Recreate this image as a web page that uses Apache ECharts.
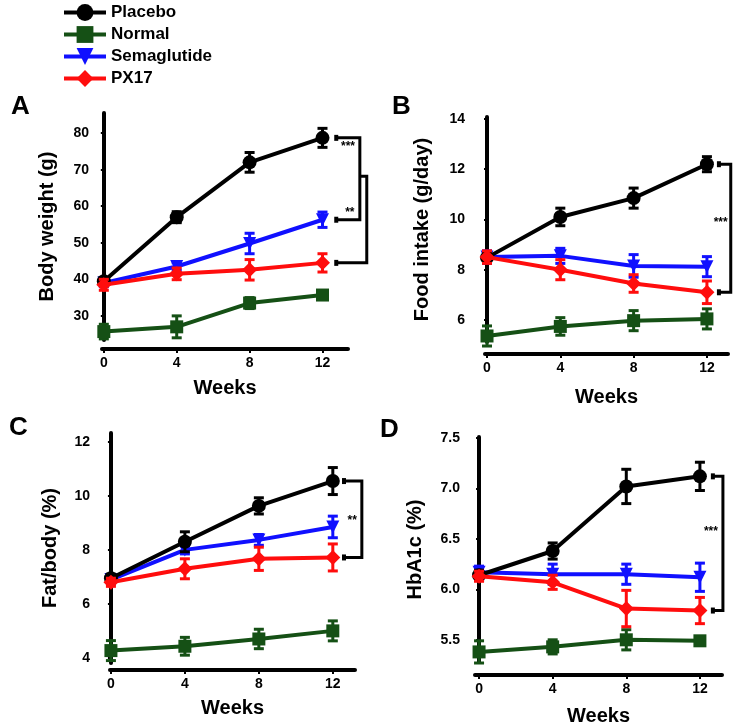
<!DOCTYPE html>
<html><head><meta charset="utf-8">
<script src="https://cdn.jsdelivr.net/npm/echarts@6/dist/echarts.min.js"></script>
<style>html,body{margin:0;padding:0;background:#fff}#c{width:738px;height:728px}</style>
</head><body><div id="c"></div>
<script>
// ---------- data ----------
const weeks = [0, 4, 8, 12];
const weekTicks = [0, 4, 8, 12];
const groups = ['Placebo', 'Normal', 'Semaglutide', 'PX17'];

// A: Body weight (g)
const bwPlacebo = [39.5, 57.0, 72.0, 78.7];
const bwPlaceboErr = [1.0, 1.5, 2.7, 2.6];
const bwNormal = [25.7, 27.0, 33.5, 35.7];
const bwNormalErr = [2.0, 3.0, 1.5, 0.8];
const bwSema = [39.0, 43.5, 49.8, 56.3];
const bwSemaErr = [1.0, 1.0, 2.8, 2.1];
const bwPX = [38.5, 41.5, 42.6, 44.5];
const bwPXErr = [1.5, 1.6, 2.8, 2.5];
const bwTicks = [30, 40, 50, 60, 70, 80];

// B: Food intake (g/day)
const fiPlacebo = [8.48, 10.1, 10.85, 12.2];
const fiPlaceboErr = [0.2, 0.35, 0.4, 0.3];
const fiNormal = [5.36, 5.74, 5.97, 6.04];
const fiNormalErr = [0.4, 0.35, 0.4, 0.4];
const fiSema = [8.5, 8.55, 8.15, 8.12];
const fiSemaErr = [0.25, 0.3, 0.45, 0.4];
const fiPX = [8.5, 8.0, 7.45, 7.1];
const fiPXErr = [0.25, 0.4, 0.35, 0.45];
const fiTicks = [6, 8, 10, 12, 14];

// C: Fat/body (%)
const fbPlacebo = [6.95, 8.3, 9.63, 10.55];
const fbPlaceboErr = [0.15, 0.37, 0.3, 0.5];
const fbNormal = [4.27, 4.43, 4.7, 5.0];
const fbNormalErr = [0.37, 0.33, 0.36, 0.37];
const fbSema = [6.9, 8.0, 8.37, 8.85];
const fbSemaErr = [0.15, 0.15, 0.2, 0.4];
const fbPX = [6.8, 7.3, 7.67, 7.72];
const fbPXErr = [0.15, 0.37, 0.43, 0.5];
const fbTicks = [4, 6, 8, 10, 12];

// D: HbA1c (%)
const hbPlacebo = [6.14, 6.38, 7.02, 7.12];
const hbPlaceboErr = [0.05, 0.08, 0.17, 0.14];
const hbNormal = [5.38, 5.43, 5.5, 5.49];
const hbNormalErr = [0.11, 0.07, 0.1, 0.03];
const hbSema = [6.17, 6.15, 6.15, 6.12];
const hbSemaErr = [0.06, 0.1, 0.1, 0.14];
const hbPX = [6.13, 6.07, 5.81, 5.79];
const hbPXErr = [0.05, 0.07, 0.18, 0.13];
const hbTicks = [5.5, 6.0, 6.5, 7.0, 7.5];

// ---------- styling ----------
const FONT = 'Liberation Sans, Arial, sans-serif';
const colors = {Placebo: '#000000', Normal: '#155015', Semaglutide: '#1010ff', PX17: '#ff0d0d'};
const symbols = {Placebo: 'circle', Normal: 'rect', Semaglutide: 'triangle', PX17: 'diamond'};
const symRot = {Placebo: 0, Normal: 0, Semaglutide: 180, PX17: 0};
const symSize = {Placebo: 14, Normal: 13, Semaglutide: 13, PX17: 15};
const zOrder = {Normal: 2, Semaglutide: 3, Placebo: 4, PX17: 5};

const panels = [
  {name: 'Body weight (g)', ticks: bwTicks, min: 23.4, max: 85.5, fmt: v => v,
   grid: {left: 102, top: 113, width: 246, height: 227}, xmin: -0.1, xmax: 13.4, xOff: 9, yOff: 8, yGap: 37, xGap: 29,
   data: {Placebo: [bwPlacebo, bwPlaceboErr], Normal: [bwNormal, bwNormalErr], Semaglutide: [bwSema, bwSemaErr], PX17: [bwPX, bwPXErr]}},
  {name: 'Food intake (g/day)', ticks: fiTicks, min: 5.12, max: 14.08, fmt: v => v,
   grid: {left: 485, top: 117, width: 243, height: 225}, xmin: -0.11, xmax: 13.15, xOff: 12, yOff: 15, yGap: 38, xGap: 33,
   data: {Placebo: [fiPlacebo, fiPlaceboErr], Normal: [fiNormal, fiNormalErr], Semaglutide: [fiSema, fiSemaErr], PX17: [fiPX, fiPXErr]}},
  {name: 'Fat/body (%)', ticks: fbTicks, min: 3.81, max: 12.33, fmt: v => v,
   grid: {left: 110, top: 433, width: 245, height: 230}, xmin: -0.05, xmax: 13.2, xOff: 7, yOff: 15, yGap: 35, xGap: 28,
   data: {Placebo: [fbPlacebo, fbPlaceboErr], Normal: [fbNormal, fbNormalErr], Semaglutide: [fbSema, fbSemaErr], PX17: [fbPX, fbPXErr]}},
  {name: 'HbA1c (%)', ticks: hbTicks, min: 5.28, max: 7.51, fmt: v => v.toFixed(1),
   grid: {left: 475, top: 437, width: 247, height: 225}, xmin: -0.22, xmax: 13.2, xOff: 13, yOff: 10, yGap: 40, xGap: 31,
   data: {Placebo: [hbPlacebo, hbPlaceboErr], Normal: [hbNormal, hbNormalErr], Semaglutide: [hbSema, hbSemaErr], PX17: [hbPX, hbPXErr]}}
];

// significance brackets (data units of each panel)
const brackets = [
  {p: 0, x0: 12.7, xv: 14.05, yTop: bwPlacebo[3], yBot: bwSema[3], capTop: true},
  {p: 0, x0: 12.7, xv: 14.43, yTop: 68.2, yBot: bwPX[3], xTopStart: 14.05, capTop: false},
  {p: 1, x0: 12.6, xv: 13.3, yTop: fiPlacebo[3], yBot: fiPX[3], capTop: true},
  {p: 2, x0: 12.55, xv: 13.57, yTop: fbPlacebo[3], yBot: fbPX[3], capTop: true},
  {p: 3, x0: 12.65, xv: 13.25, yTop: hbPlacebo[3], yBot: hbPX[3], capTop: true}
];
const stars = [
  {p: 0, x: 13.4, y: 76.3, t: '***'},
  {p: 0, x: 13.5, y: 58.2, t: '**'},
  {p: 1, x: 12.75, y: 9.88, t: '***'},
  {p: 2, x: 13.05, y: 9.1, t: '**'},
  {p: 3, x: 12.6, y: 6.57, t: '***'}
];

// ---------- build option ----------
const grids = [], xAxes = [], yAxes = [], series = [];
panels.forEach((P, p) => {
  grids.push(Object.assign({containLabel: false}, P.grid));
  xAxes.push({
    type: 'value', gridIndex: p, min: P.xmin, max: P.xmax, offset: P.xOff,
    axisLine: {show: true, lineStyle: {color: '#000', width: 4}},
    axisTick: {show: true, length: 4, customValues: weekTicks, lineStyle: {color: '#000', width: 2}},
    axisLabel: {customValues: weekTicks, fontFamily: FONT, fontWeight: 'bold', fontSize: 14, color: '#000', margin: 7},
    splitLine: {show: false},
    name: 'Weeks', nameLocation: 'middle', nameGap: P.xGap,
    nameTextStyle: {fontFamily: FONT, fontWeight: 'bold', fontSize: 20, color: '#000'}
  });
  yAxes.push({
    type: 'value', gridIndex: p, min: P.min, max: P.max, offset: P.yOff,
    axisLine: {show: true, lineStyle: {color: '#000', width: 4}},
    axisTick: {show: true, length: 3, customValues: P.ticks, lineStyle: {color: '#000', width: 2}},
    axisLabel: {customValues: P.ticks, formatter: P.fmt, fontFamily: FONT, fontWeight: 'bold', fontSize: 14, color: '#000', margin: 5},
    splitLine: {show: false},
    name: P.name, nameLocation: 'middle', nameGap: P.yGap,
    nameTextStyle: {fontFamily: FONT, fontWeight: 'bold', fontSize: 20, color: '#000'}
  });
  groups.forEach(g => {
    const [vals, errs] = P.data[g];
    const col = colors[g];
    series.push({
      type: 'custom', xAxisIndex: p, yAxisIndex: p, z: zOrder[g], silent: true,
      data: weeks.map((w, i) => [w, vals[i] - errs[i], vals[i] + errs[i]]),
      encode: {x: 0, y: [1, 2]},
      renderItem: (params, api) => {
        const x = api.value(0);
        const lo = api.coord([x, api.value(1)]);
        const hi = api.coord([x, api.value(2)]);
        const w = 5;
        const st = {stroke: col, lineWidth: 3};
        return {type: 'group', children: [
          {type: 'line', shape: {x1: lo[0], y1: lo[1], x2: hi[0], y2: hi[1]}, style: st},
          {type: 'line', shape: {x1: lo[0] - w, y1: lo[1], x2: lo[0] + w, y2: lo[1]}, style: st},
          {type: 'line', shape: {x1: hi[0] - w, y1: hi[1], x2: hi[0] + w, y2: hi[1]}, style: st}
        ]};
      }
    });
    series.push({
      type: 'line', name: g, xAxisIndex: p, yAxisIndex: p, z: zOrder[g],
      data: weeks.map((w, i) => [w, vals[i]]),
      symbol: symbols[g], symbolSize: symSize[g], symbolRotate: symRot[g],
      lineStyle: {color: col, width: 4}, itemStyle: {color: col},
      emphasis: {disabled: true}
    });
  });
});

brackets.forEach(b => {
  series.push({
    type: 'custom', xAxisIndex: b.p, yAxisIndex: b.p, clip: false, silent: true, z: 1,
    data: [[b.x0, b.yBot]],
    renderItem: (params, api) => {
      const a = api.coord([b.xTopStart !== undefined ? b.xTopStart : b.x0, b.yTop]);
      const c = api.coord([b.xv, b.yTop]);
      const d = api.coord([b.xv, b.yBot]);
      const e = api.coord([b.x0, b.yBot]);
      const kids = [{type: 'polyline', shape: {points: [a, c, d, e]}, style: {stroke: '#000', lineWidth: 3, fill: null}}];
      kids.push({type: 'rect', shape: {x: e[0] - 1, y: e[1] - 3, width: 4, height: 6}, style: {fill: '#000'}});
      if (b.capTop) kids.push({type: 'rect', shape: {x: a[0] - 1, y: a[1] - 3, width: 4, height: 6}, style: {fill: '#000'}});
      return {type: 'group', children: kids};
    }
  });
});
stars.forEach(s => {
  series.push({
    type: 'custom', xAxisIndex: s.p, yAxisIndex: s.p, clip: false, silent: true, z: 6,
    data: [[s.x, s.y]],
    renderItem: (params, api) => {
      const pt = api.coord([api.value(0), api.value(1)]);
      return {type: 'text', x: pt[0], y: pt[1], style: {text: s.t, fontFamily: FONT, fontWeight: 'bold', fontSize: 12, fill: '#000', align: 'center', verticalAlign: 'middle'}};
    }
  });
});

const letter = (t, x, y) => ({type: 'text', left: x, top: y, style: {text: t, fontFamily: FONT, fontWeight: 'bold', fontSize: 26, fill: '#000'}});

const option = {
  animation: false,
  backgroundColor: '#fff',
  grid: grids, xAxis: xAxes, yAxis: yAxes, series,
  legend: {
    data: groups, orient: 'vertical', left: 57, top: -1,
    itemWidth: 42, itemHeight: 21, itemGap: 5, selectedMode: false,
    lineStyle: {width: 4},
    textStyle: {fontFamily: FONT, fontWeight: 'bold', fontSize: 17, color: '#000'}
  },
  graphic: [letter('A', 11, 94), letter('B', 392, 94), letter('C', 9, 415), letter('D', 380, 417)]
};
echarts.init(document.getElementById('c')).setOption(option);
</script></body></html>
